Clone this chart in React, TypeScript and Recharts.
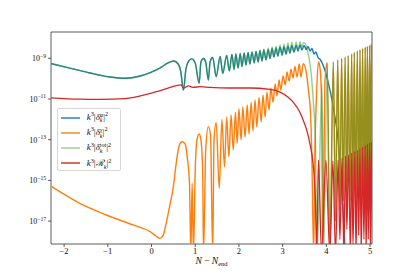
import React from 'react';
import { LineChart, Line, XAxis, YAxis, ReferenceArea } from 'recharts';

// values are [N - N_end, log10(spectrum)]
// phi and tot overlap exactly up to N - N_end ~ 2.45
const sharedHead: [number, number][] = [
  [-2.30, -9.26], [-1.87, -9.48], [-1.41, -9.72], [-0.95, -9.92], [-0.61, -9.98],
  [-0.26, -9.87], [-0.03, -9.70], [0.19, -9.48], [0.38, -9.23], [0.51, -9.13],
  [0.61, -9.28], [0.67, -9.67], [0.73, -10.56], [0.79, -9.48], [0.86, -9.11],
  [0.92, -9.03], [1.00, -9.23], [1.09, -10.23], [1.13, -9.18], [1.19, -9.01],
  [1.24, -9.18], [1.30, -10.07], [1.34, -9.18], [1.40, -8.96], [1.48, -9.90],
  [1.57, -8.91], [1.63, -9.74], [1.72, -8.86], [1.78, -9.62], [1.84, -8.81],
  [1.89, -9.55], [1.93, -8.79], [1.98, -9.48], [2.03, -8.76], [2.07, -9.40],
  [2.12, -8.74], [2.16, -9.33], [2.21, -8.71], [2.25, -9.28], [2.30, -8.69],
  [2.35, -9.23], [2.39, -8.66], [2.44, -9.18],
];

const phiTail: [number, number][] = [
  [2.48, -8.63], [2.53, -9.13], [2.57, -8.59], [2.62, -9.08], [2.67, -8.56],
  [2.71, -9.01], [2.76, -8.52], [2.80, -8.94], [2.85, -8.49], [2.89, -8.89],
  [2.94, -8.46], [2.99, -8.84], [3.03, -8.43], [3.08, -8.79], [3.12, -8.40],
  [3.17, -8.74], [3.21, -8.37], [3.26, -8.69], [3.31, -8.36], [3.35, -8.64],
  [3.40, -8.35], [3.44, -8.59], [3.49, -8.37], [3.54, -8.57], [3.58, -8.42],
  [3.63, -8.64], [3.67, -8.52], [3.72, -8.79], [3.76, -8.69], [3.81, -8.96],
  [3.86, -9.06], [3.95, -9.48], [4.04, -10.16], [4.13, -11.05], [4.20, -11.93],
  [4.27, -13.01], [4.32, -14.49], [4.38, -16.45], [4.43, -18.42], [4.50, -19.5],
];

const totTail: [number, number][] = [
  [2.48, -8.59], [2.53, -9.13], [2.57, -8.54], [2.62, -9.08], [2.67, -8.49],
  [2.71, -9.01], [2.76, -8.44], [2.80, -8.94], [2.85, -8.40], [2.89, -8.89],
  [2.94, -8.35], [2.99, -8.84], [3.03, -8.30], [3.08, -8.79], [3.12, -8.25],
  [3.17, -8.74], [3.21, -8.21], [3.26, -8.69], [3.31, -8.20], [3.35, -8.64],
  [3.40, -8.18], [3.44, -8.44], [3.48, -8.22], [3.54, -8.40], [3.59, -8.84],
  [3.65, -9.67], [3.70, -11.05], [3.75, -13.01], [3.79, -18.6], [3.90, -10.26],
  [3.94, -18.6],
];

const chiPoints: [number, number][] = [
  [-2.30, -15.28], [-2.09, -15.56], [-1.64, -16.13], [-1.03, -16.70], [-0.42, -17.19],
  [-0.03, -17.52], [0.10, -17.73], [0.19, -17.85], [0.26, -17.73], [0.35, -16.95],
  [0.42, -16.21], [0.50, -15.31], [0.56, -14.24], [0.61, -13.51], [0.66, -13.16],
  [0.71, -13.10], [0.77, -13.21], [0.82, -13.90], [0.87, -15.23], [0.90, -18.6],
  [0.93, -15.14], [0.96, -18.6], [1.00, -14.49], [1.04, -13.01], [1.09, -12.72],
  [1.13, -13.01], [1.17, -14.49], [1.19, -18.6], [1.24, -13.51], [1.30, -12.36],
  [1.35, -12.77], [1.40, -18.6], [1.43, -13.01], [1.48, -12.16], [1.55, -15.39],
  [1.61, -12.01], [1.67, -14.33], [1.72, -11.88], [1.77, -13.84], [1.82, -11.79],
  [1.87, -13.51], [1.92, -11.66], [1.96, -13.18], [2.00, -11.49], [2.05, -13.01],
  [2.09, -11.39], [2.14, -12.87], [2.19, -11.29], [2.23, -12.72], [2.28, -11.17],
  [2.32, -12.57], [2.37, -11.05], [2.41, -12.38], [2.46, -10.93], [2.51, -12.13],
  [2.55, -10.80], [2.60, -11.88], [2.64, -10.66], [2.69, -11.54], [2.73, -10.46],
  [2.78, -11.15], [2.83, -10.26], [2.87, -10.85], [2.92, -10.07], [2.96, -10.56],
  [3.01, -9.87], [3.06, -10.31], [3.10, -9.67], [3.15, -10.12], [3.19, -9.53],
  [3.24, -9.97], [3.28, -9.40], [3.33, -9.92], [3.38, -9.28], [3.42, -9.92],
  [3.47, -9.26], [3.54, -9.67], [3.59, -10.56], [3.64, -11.79], [3.67, -14.0],
  [3.71, -18.6], [3.74, -13.51], [3.78, -10.56], [3.82, -9.17], [3.86, -9.57],
  [3.89, -11.05], [3.92, -18.6], [3.97, -10.07],
];

// chi and tot oscillate together at the end
const sharedTail: [number, number][] = [
  [4.02, -9.23], [4.08, -18.6], [4.16, -9.18], [4.21, -17.0], [4.26, -9.08],
  [4.31, -16.5], [4.35, -9.01], [4.39, -16.0], [4.43, -8.94], [4.47, -16.5],
  [4.50, -8.86], [4.54, -16.0], [4.58, -8.79], [4.61, -16.5], [4.64, -8.71],
  [4.67, -16.0], [4.71, -8.64], [4.74, -16.5], [4.77, -8.57], [4.80, -16.0],
  [4.83, -8.51], [4.86, -16.5], [4.89, -8.45], [4.91, -16.0], [4.94, -8.41],
  [4.96, -16.5], [4.99, -8.36], [5.01, -16.0], [5.03, -8.32], [5.06, -16.5],
];

const rPoints: [number, number][] = [
  [-2.30, -10.94], [-1.64, -11.01], [-1.18, -11.02], [-0.61, -10.98], [-0.03, -10.72],
  [0.31, -10.51], [0.54, -10.36], [0.67, -10.31], [0.74, -10.46], [0.84, -10.36],
  [0.95, -10.43], [1.11, -10.39], [1.34, -10.43], [1.80, -10.46], [2.25, -10.46],
  [2.71, -10.53], [2.94, -10.66], [3.12, -10.90], [3.26, -11.20], [3.38, -11.59],
  [3.47, -12.03], [3.55, -12.52], [3.63, -13.26], [3.70, -14.24], [3.75, -15.96],
  [3.78, -18.6], [3.82, -14.0], [3.89, -18.6], [3.99, -14.0], [4.08, -18.6],
  [4.15, -14.05], [4.21, -18.6], [4.27, -14.0], [4.31, -17.9], [4.36, -13.9],
  [4.40, -18.6], [4.44, -13.8], [4.47, -17.4], [4.51, -13.75], [4.55, -18.6],
  [4.58, -13.65], [4.61, -18.2], [4.65, -13.58], [4.68, -18.6], [4.71, -13.51],
  [4.74, -17.7], [4.77, -13.43], [4.80, -18.6], [4.83, -13.36], [4.86, -17.9],
  [4.89, -13.29], [4.91, -18.6], [4.94, -13.21], [4.96, -17.9], [4.99, -13.16],
  [5.01, -18.6], [5.03, -13.11], [5.06, -18.6],
];

const xTicks = [-2, -1, 0, 1, 2, 3, 4, 5];
const yTicks = [-17, -15, -13, -11, -9];

const legendItems = [
  { name: 'phi', base: 'δ', sup: 'φ', color: '#1f77b4', opacity: 1 },
  { name: 'chi', base: 'δ', sup: 'χ', color: '#ff7f0e', opacity: 1 },
  { name: 'tot', base: 'δ', sup: 'tot', color: '#2ca02c', opacity: 0.5 },
  { name: 'R', base: 'ℛ', sup: '', color: '#d62728', opacity: 1 },
];

const toRows = (pts: [number, number][]) => pts.map(([x, y]) => ({ x, y }));
const phiData = toRows([...sharedHead, ...phiTail]);
const chiData = toRows([...chiPoints, ...sharedTail]);
const totData = toRows([...sharedHead, ...totTail, ...sharedTail]);
const rData = toRows(rPoints);

const serif = '"Liberation Serif", "DejaVu Serif", serif';
const X_DOMAIN = [-2.3, 5.045];
const Y_DOMAIN = [-18.125, -7.708];

const fmtMinus = (v: number) => (v < 0 ? `\u2212${-v}` : `${v}`);

const renderXTick = (props: any) => {
  const { x, y, payload } = props;
  return (
    <text x={x} y={y} dy="0.6em" textAnchor="middle" fontFamily={serif} fontSize={8.5} fill="#111">
      {fmtMinus(payload.value)}
    </text>
  );
};

const renderYTick = (props: any) => {
  const { x, y, payload } = props;
  return (
    <text x={x} y={y + 3} textAnchor="end" fontFamily={serif} fontSize={8} fill="#111">
      10
      <tspan dy={-3.5} fontSize={5.6}>{fmtMinus(payload.value)}</tspan>
    </text>
  );
};

const renderXLabel = (props: any) => {
  const vb = props.viewBox || { x: 51, y: 244, width: 321, height: 30 };
  return (
    <text x={vb.x + vb.width / 2} y={vb.y + 20} textAnchor="middle" fontFamily={serif} fontSize={9.5} fill="#111" style={{ whiteSpace: 'pre' }}>
      <tspan fontStyle="italic">N</tspan>
      <tspan>{' \u2212 '}</tspan>
      <tspan fontStyle="italic">N</tspan>
      <tspan fontSize={6.5} dy={2}>end</tspan>
    </text>
  );
};

const LegendLabel = ({ base, sup }: { base: string; sup: string }) => (
  <span style={{ whiteSpace: 'nowrap' }}>
    <i>k</i>
    <span style={{ fontSize: '0.7em', position: 'relative', top: '-0.55em' }}>3</span>
    |<i>{base}</i>
    <span style={{ display: 'inline-block', fontSize: '0.68em', lineHeight: '0.9em', verticalAlign: '-0.45em' }}>
      {sup ? <span style={{ display: 'block', fontStyle: sup === 'tot' ? 'normal' : 'italic' }}>{sup}</span> : null}
      <i style={{ display: 'block' }}>k</i>
    </span>
    |<span style={{ fontSize: '0.7em', position: 'relative', top: '-0.55em' }}>2</span>
  </span>
);

export default function App() {
  return (
    <div style={{ position: 'absolute', left: 0, top: 0, width: 413, height: 275, background: '#fff' }}>
      <LineChart width={413} height={275} margin={{ top: 32, right: 41, bottom: 1, left: 8 }}>
        <XAxis
          type="number"
          dataKey="x"
          domain={X_DOMAIN}
          ticks={xTicks}
          allowDataOverflow
          axisLine={false}
          tickSize={3}
          tickLine={{ stroke: '#333', strokeWidth: 0.8 }}
          tick={renderXTick}
          height={30}
          label={renderXLabel}
        />
        <YAxis
          type="number"
          dataKey="y"
          domain={Y_DOMAIN}
          ticks={yTicks}
          allowDataOverflow
          axisLine={false}
          tickSize={3}
          tickLine={{ stroke: '#333', strokeWidth: 0.8 }}
          tick={renderYTick}
          width={43}
        />
        <Line data={phiData} dataKey="y" type="monotoneX" stroke="#1f77b4" strokeWidth={1.4} dot={false} isAnimationActive={false} />
        <Line data={chiData} dataKey="y" type="monotoneX" stroke="#ff7f0e" strokeWidth={1.4} dot={false} isAnimationActive={false} />
        <Line data={totData} dataKey="y" type="monotoneX" stroke="#2ca02c" strokeOpacity={0.5} strokeWidth={1.4} dot={false} isAnimationActive={false} />
        <Line data={rData} dataKey="y" type="monotoneX" stroke="#d62728" strokeWidth={1.3} dot={false} isAnimationActive={false} />
        <ReferenceArea
          x1={X_DOMAIN[0]}
          x2={X_DOMAIN[1]}
          y1={Y_DOMAIN[0]}
          y2={Y_DOMAIN[1]}
          fill="none"
          stroke="#333"
          strokeWidth={0.8}
          ifOverflow="visible"
        />
      </LineChart>

      {/* legend box */}
      <div
        style={{
          position: 'absolute',
          left: 56.7,
          top: 107.7,
          width: 64,
          height: 63.3,
          boxSizing: 'border-box',
          border: '1px solid #d6d6d6',
          borderRadius: 2,
          background: 'rgba(255,255,255,0.8)',
          paddingTop: 1.5,
          fontFamily: serif,
          fontSize: 9,
          color: '#111',
        }}
      >
        {legendItems.map((item) => (
          <div key={item.name} style={{ display: 'flex', alignItems: 'center', height: 15.2 }}>
            <svg width={19} height={4} style={{ flex: 'none', marginLeft: 3, marginRight: 7 }}>
              <line x1={0} y1={2} x2={19} y2={2} stroke={item.color} strokeOpacity={item.opacity} strokeWidth={1.4} />
            </svg>
            <LegendLabel base={item.base} sup={item.sup} />
          </div>
        ))}
      </div>
    </div>
  );
}
